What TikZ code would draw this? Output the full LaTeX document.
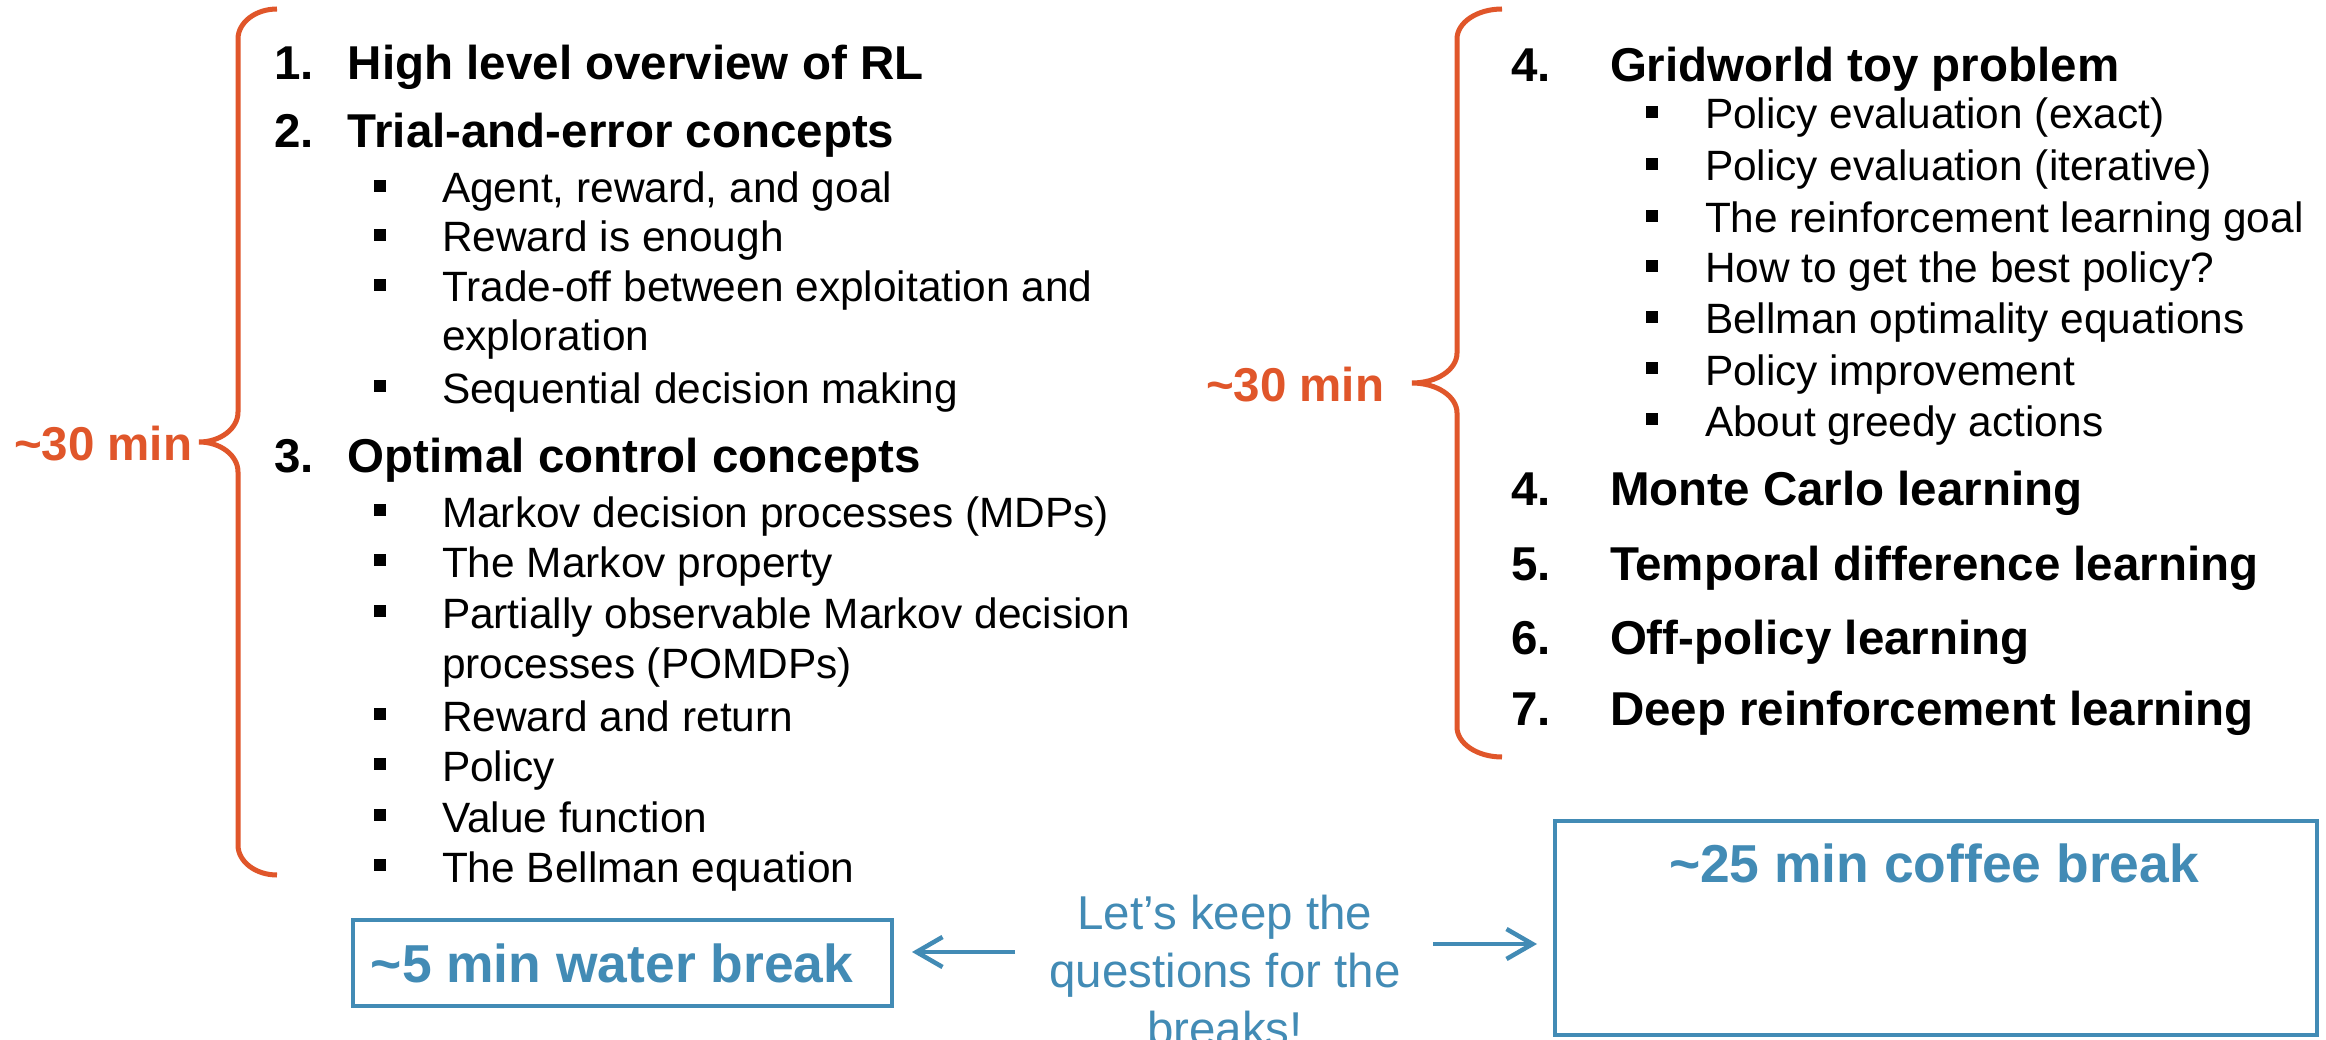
\documentclass[tikz,border=0pt]{standalone}
\usepackage{fontspec}
\setmainfont{Liberation Sans}
\usetikzlibrary{arrows.meta}
\definecolor{bracecol}{RGB}{224,86,42}
\definecolor{breakblue}{RGB}{66,139,181}

% square bullet followed by the indent up to the item text
\newcommand\blt[1]{\makebox[#1][l]{\rule[11pt]{12pt}{12pt}}}
% item number set in a box of fixed width
\newcommand\num[2]{\makebox[#1][l]{#2}}

\begin{document}
\begin{tikzpicture}[x=1pt,y=-1pt,
  every node/.style={inner sep=0pt, outer sep=0pt},
  head/.style={anchor=base west, font=\fontsize{47.5}{57}\selectfont\bfseries},
  sub/.style={anchor=base west, font=\fontsize{42.4}{49}\selectfont},
  timing/.style={anchor=base west, text=bracecol, font=\fontsize{47.5}{57}\selectfont\bfseries},
  bracepath/.style={draw=bracecol, line width=5pt},
  breakbox/.style={draw=breakblue, line width=4.5pt},
  breaklabel/.style={anchor=base, text=breakblue, font=\fontsize{53.4}{64}\selectfont\bfseries},
  note/.style={anchor=base, text=breakblue, align=center, font=\fontsize{47.5}{58}\selectfont},
  pointer/.style={draw=breakblue, line width=4.5pt, -{Straight Barb[length=26pt,width=30pt]}}
]
\useasboundingbox (0,0) rectangle (2326,1040);
\fill[white] (0,0) rectangle (2326,1040);
\clip (0,0) rectangle (2326,1040);

% ---- first half: topics 1-3 ----
\node[head] (l1) at (274,80) {\num{74pt}{1.}High level overview of RL};
\node[head] (l2) at (274,148) {\num{74pt}{2.}Trial-and-error concepts};
\node[sub] (l2a) at (374,203) {\blt{68pt}Agent, reward, and goal};
\node[sub] (l2b) at (374,252) {\blt{68pt}Reward is enough};
\node[sub] (l2c) at (374,302) {\blt{68pt}Trade-off between exploitation and};
\node[sub] (l2cc) at (442,351) {exploration};
\node[sub] (l2d) at (374,403) {\blt{68pt}Sequential decision making};
\node[head] (l3) at (274,472) {\num{74pt}{3.}Optimal control concepts};
\node[sub] (l3a) at (374,527) {\blt{68pt}Markov decision processes (MDPs)};
\node[sub] (l3b) at (374,577) {\blt{68pt}The Markov property};
\node[sub] (l3c) at (374,628) {\blt{68pt}Partially observable Markov decision};
\node[sub] (l3cc) at (442,678) {processes (POMDPs)};
\node[sub] (l3d) at (374,731) {\blt{68pt}Reward and return};
\node[sub] (l3e) at (374,781) {\blt{68pt}Policy};
\node[sub] (l3f) at (374,832) {\blt{68pt}Value function};
\node[sub] (l3g) at (374,882) {\blt{68pt}The Bellman equation};

% ---- second half: topics 4-7 ----
\node[head] (r4) at (1511,82) {\num{99pt}{4.}Gridworld toy problem};
\node[sub] (r4a) at (1646,129) {\blt{59pt}Policy evaluation (exact)};
\node[sub] (r4b) at (1646,181) {\blt{59pt}Policy evaluation (iterative)};
\node[sub] (r4c) at (1646,233) {\blt{59pt}The reinforcement learning goal};
\node[sub] (r4d) at (1646,283) {\blt{59pt}How to get the best policy?};
\node[sub] (r4e) at (1646,334) {\blt{59pt}Bellman optimality equations};
\node[sub] (r4f) at (1646,385) {\blt{59pt}Policy improvement};
\node[sub] (r4g) at (1646,436) {\blt{59pt}About greedy actions};
\node[head] (r5) at (1511,505) {\num{99pt}{4.}Monte Carlo learning};
\node[head] (r6) at (1511,580) {\num{99pt}{5.}Temporal difference learning};
\node[head] (r7) at (1511,654) {\num{99pt}{6.}Off-policy learning};
\node[head] (r8) at (1511,725) {\num{99pt}{7.}Deep reinforcement learning};

% ---- curly braces with their durations ----
\draw[bracepath] (277,9) .. controls (255.5,9) and (238,22.4) .. (238,39)
  -- (238,412) .. controls (238,428.6) and (220.5,442) .. (199,442)
  .. controls (220.5,442) and (238,455.4) .. (238,472)
  -- (238,845) .. controls (238,861.6) and (255.5,875) .. (277,875);
\node[timing] (t1) at (14,460) {\textasciitilde30 min};

\draw[bracepath] (1502,9) .. controls (1477.2,9) and (1457,22.4) .. (1457,39)
  -- (1457,353) .. controls (1457,369.6) and (1436.8,383) .. (1412,383)
  .. controls (1436.8,383) and (1457,396.4) .. (1457,413)
  -- (1457,727) .. controls (1457,743.6) and (1477.2,757) .. (1502,757);
\node[timing] (t2) at (1206,402) {\textasciitilde30 min};

% ---- breaks ----
\node[breakbox, minimum width=539pt, minimum height=86pt] (wbox) at (622.5,963) {};
\node[breaklabel] (wtxt) at (612,982) {\textasciitilde5 min water break};
\node[breakbox, minimum width=762pt, minimum height=214pt] (cbox) at (1936,928) {};
\node[breaklabel] (ctxt) at (1934,882) {\textasciitilde25 min coffee break};

% the base of this three-line node is the baseline of its last line
\node[note] (ask) at (1225,1045) {Let’s keep the\\questions for the\\breaks!};
\coordinate (la) at (1015,952);
\coordinate (ra) at (1433,944);
\draw[pointer, shorten >=20pt] (la) -- (la -| wbox.east);
\draw[pointer, shorten >=18pt] (ra) -- (ra -| cbox.west);
\end{tikzpicture}
\end{document}
